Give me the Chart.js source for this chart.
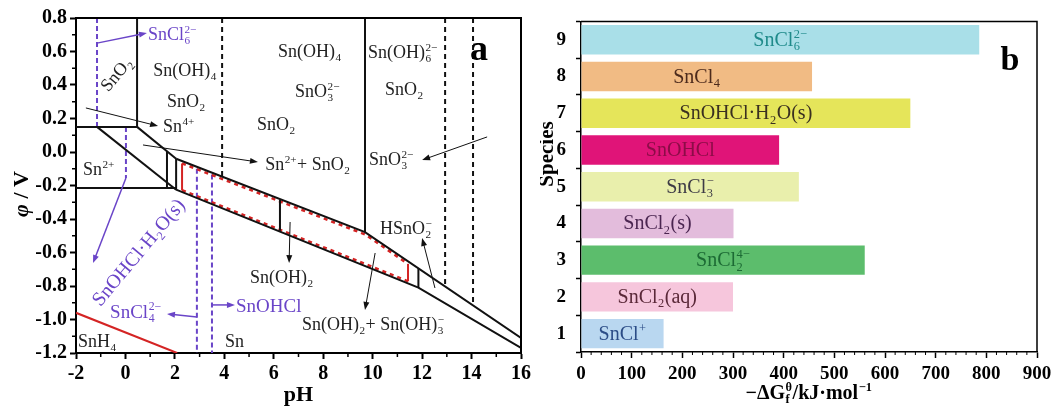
<!DOCTYPE html>
<html>
<head>
<meta charset="utf-8">
<script src="https://cdn.jsdelivr.net/npm/chart.js@4.4.1/dist/chart.umd.min.js"></script>
<style>
  body { margin: 0; background: #fff; width: 1051px; height: 410px; overflow: hidden; position: relative; }
  canvas { position: absolute; top: 0; }
  #pourbaix { left: 0; }
  #gibbs { left: 540px; }
</style>
</head>
<body>
<canvas id="pourbaix" width="540" height="410"></canvas>
<canvas id="gibbs" width="511" height="410"></canvas>
<script>
const SERIF = '"Liberation Serif", "Times New Roman", serif';
const BLACK = "#111";
const PURPLE = "#6a45c8";
const RED = "#d42424";

// ---- panel a : pH / potential lines ----
const sno2Box = [[-2, 0.15], [0.47, 0.15], [0.47, 0.8]];
const sn4Sn2Line = [[0.47, 0.15], [2.05, -0.04]];
const sn2Diagonal = [[-1.15, 0.15], [2.05, -0.225]];
const sn2Floor = [[-2, -0.215], [2.05, -0.215]];
const upperBoundary = [[2.05, -0.04], [9.69, -0.478], [16, -1.11]];
const lowerBoundary = [[2.05, -0.225], [11.85, -0.81], [16, -1.17]];
const solidVerticals = [
  [[1.68, 0.005], [1.68, -0.215]],
  [[2.05, -0.04], [2.05, -0.225]],
  [[6.25, -0.285], [6.25, -0.47]],
  [[9.69, 0.8], [9.69, -0.478]],
  [[11.85, -0.695], [11.85, -0.81]],
];
const dashedVerticals = [
  [[3.91, 0.8], [3.91, -0.148]],
  [[12.93, 0.8], [12.93, -0.802]],
  [[14.06, 0.8], [14.06, -0.915]],
];
const snh4Line = [[-2, -0.96], [2.09, -1.2]];
const redUpper = [[2.29, -0.068], [9.69, -0.492], [11.43, -0.668]];
const redLower = [[2.29, -0.228], [11.43, -0.772]];
const redSides = [
  [[2.29, -0.068], [2.29, -0.228]],
  [[11.43, -0.668], [11.43, -0.772]],
];
const chlorideDashed = [
  [[-1.15, 0.8], [-1.15, 0.15]],
  [[0.02, 0.15], [0.02, -0.155]],
  [[2.89, -0.1], [2.89, -1.2]],
  [[3.5, -0.135], [3.5, -1.2]],
];
// arrows: [fromPH, fromE, toPH, toE]
const blackArrows = [
  [-1.6, 0.263, 1.32, 0.155],
  [0.71, 0.042, 5.36, -0.06],
  [14.63, 0.09, 12.0, -0.048],
  [6.66, -0.418, 6.62, -0.663],
  [10.1, -0.603, 9.69, -0.943],
  [12.52, -0.812, 12.0, -0.513],
];
const purpleArrows = [
  [-1.15, 0.65, 0.87, 0.71],
  [0.02, -0.155, -1.31, -0.663],
  [2.89, -0.985, 1.68, -0.967],
  [3.5, -0.913, 4.43, -0.913],
];

// ---- panel b : Gibbs energies ----
const species = ["1", "2", "3", "4", "5", "6", "7", "8", "9"];
const gibbsValues = [163, 300, 560, 301, 430, 391, 650, 456, 786];
const speciesNames = [
  ["SnCl", { p: "+" }],
  ["SnCl", { b: "2" }, "(aq)"],
  ["SnCl", { b: "2", p: "4\u2212" }],
  ["SnCl", { b: "2" }, "(s)"],
  ["SnCl", { b: "3", p: "\u2212" }],
  ["SnOHCl"],
  ["SnOHCl\u00b7H", { b: "2" }, "O(s)"],
  ["SnCl", { b: "4" }],
  ["SnCl", { b: "6", p: "2\u2212" }],
];
const barColors = ["#b9d7f0", "#f6c6dc", "#5cbd6c", "#e3bcdc", "#e9efac", "#e01478", "#e5e55a", "#f1bb84", "#a9dfe8"];
const nameColors = ["#2b4c86", "#5a2838", "#1c6a34", "#4a2550", "#3d3a45", "#8c0c47", "#3a3020", "#4c2a1c", "#1e8a8a"];

// rich text: strings are normal, {b, p} objects are sub / superscript
function richWidth(ctx, parts, size, weight) {
  let w = 0;
  parts.forEach((p) => {
    if (typeof p === "string") {
      ctx.font = `${weight} ${size}px ${SERIF}`;
      w += ctx.measureText(p).width;
    } else {
      ctx.font = `${weight} ${size * 0.62}px ${SERIF}`;
      w += Math.max(ctx.measureText(p.b || "").width, ctx.measureText(p.p || "").width) + 1;
    }
  });
  return w;
}
function drawRich(ctx, parts, x, y, size, color, align, weight) {
  weight = weight || "normal";
  let cx = align === "center" ? x - richWidth(ctx, parts, size, weight) / 2 : x;
  ctx.fillStyle = color;
  ctx.textAlign = "left";
  ctx.textBaseline = "alphabetic";
  parts.forEach((p) => {
    if (typeof p === "string") {
      ctx.font = `${weight} ${size}px ${SERIF}`;
      ctx.fillText(p, cx, y);
      cx += ctx.measureText(p).width;
    } else {
      ctx.font = `${weight} ${size * 0.62}px ${SERIF}`;
      if (p.b) ctx.fillText(p.b, cx + 0.5, y + size * 0.22);
      if (p.p) ctx.fillText(p.p, cx + 0.5, y - size * 0.4);
      cx += Math.max(ctx.measureText(p.b || "").width, ctx.measureText(p.p || "").width) + 1;
    }
  });
}
function arrow(ctx, x1, y1, x2, y2, color, width) {
  const ang = Math.atan2(y2 - y1, x2 - x1), len = 8, half = 3;
  ctx.strokeStyle = color;
  ctx.fillStyle = color;
  ctx.lineWidth = width;
  ctx.setLineDash([]);
  ctx.beginPath();
  ctx.moveTo(x1, y1);
  ctx.lineTo(x2 - Math.cos(ang) * len * 0.8, y2 - Math.sin(ang) * len * 0.8);
  ctx.stroke();
  ctx.beginPath();
  ctx.moveTo(x2, y2);
  ctx.lineTo(x2 - len * Math.cos(ang) + half * Math.sin(ang), y2 - len * Math.sin(ang) - half * Math.cos(ang));
  ctx.lineTo(x2 - len * Math.cos(ang) - half * Math.sin(ang), y2 - len * Math.sin(ang) + half * Math.cos(ang));
  ctx.closePath();
  ctx.fill();
}
function seg(points, color, width, dash) {
  return {
    data: points.map(([x, y]) => ({ x, y })),
    showLine: true,
    borderColor: color,
    borderWidth: width,
    borderDash: dash || [],
    pointRadius: 0,
    pointHoverRadius: 0,
    fill: false,
    tension: 0,
  };
}

// region labels of panel a (pH, E = left end of baseline, or centre when rotated)
const regionLabels = [
  { parts: ["SnCl", { b: "6", p: "2\u2212" }], ph: 0.91, e: 0.669, color: PURPLE },
  { parts: ["Sn(OH)", { b: "4" }], ph: 1.12, e: 0.454 },
  { parts: ["SnO", { b: "2" }], ph: 1.68, e: 0.269 },
  { parts: ["Sn", { p: "4+" }], ph: 1.52, e: 0.119 },
  { parts: ["Sn", { p: "2+" }], ph: -1.72, e: -0.137 },
  { parts: ["Sn(OH)", { b: "4" }], ph: 6.17, e: 0.567 },
  { parts: ["SnO", { b: "3", p: "2\u2212" }], ph: 6.86, e: 0.328 },
  { parts: ["SnO", { b: "2" }], ph: 5.32, e: 0.131 },
  { parts: ["Sn", { p: "2+" }, "+ SnO", { b: "2" }], ph: 5.65, e: -0.107 },
  { parts: ["Sn(OH)", { b: "6", p: "2\u2212" }], ph: 9.81, e: 0.561 },
  { parts: ["SnO", { b: "2" }], ph: 10.5, e: 0.34 },
  { parts: ["SnO", { b: "3", p: "2\u2212" }], ph: 9.85, e: -0.078 },
  { parts: ["Sn(OH)", { b: "2" }], ph: 5.04, e: -0.782 },
  { parts: ["HSnO", { b: "2", p: "\u2212" }], ph: 10.3, e: -0.49 },
  { parts: ["Sn(OH)", { b: "2" }, "+ Sn(OH)", { b: "3", p: "\u2212" }], ph: 7.14, e: -1.063 },
  { parts: ["SnOHCl"], ph: 4.47, e: -0.955, color: PURPLE, size: 19 },
  { parts: ["SnCl", { b: "4", p: "2\u2212" }], ph: -0.62, e: -0.991, color: PURPLE, size: 19 },
  { parts: ["SnH", { b: "4" }], ph: -1.92, e: -1.164 },
  { parts: ["Sn"], ph: 4.03, e: -1.164 },
  { parts: ["SnO", { b: "2" }], ph: -0.38, e: 0.466, rot: -50 },
  { parts: ["SnOHCl\u00b7H", { b: "2" }, "O(s)"], ph: 0.53, e: -0.6, rot: -50, color: PURPLE, size: 20 },
];

const pourbaixDecor = {
  id: "pourbaixDecor",
  afterDatasetsDraw(chart) {
    const { ctx, chartArea: a, scales: { x, y } } = chart;
    ctx.save();
    ctx.strokeStyle = "#000";
    ctx.lineWidth = 2;
    ctx.setLineDash([]);
    ctx.beginPath();
    ctx.moveTo(a.left, a.top);
    ctx.lineTo(a.right, a.top);
    ctx.lineTo(a.right, a.bottom);
    ctx.stroke();
    // minor ticks
    ctx.lineWidth = 1.5;
    ctx.beginPath();
    for (let v = -1; v < 16; v += 2) {
      const px = x.getPixelForValue(v);
      ctx.moveTo(px, a.bottom);
      ctx.lineTo(px, a.bottom + 4);
    }
    for (let v = -1.1; v < 0.8; v += 0.2) {
      const py = y.getPixelForValue(v);
      ctx.moveTo(a.left, py);
      ctx.lineTo(a.left - 4, py);
    }
    ctx.stroke();

    blackArrows.forEach((r) =>
      arrow(ctx, x.getPixelForValue(r[0]), y.getPixelForValue(r[1]), x.getPixelForValue(r[2]), y.getPixelForValue(r[3]), BLACK, 1));
    purpleArrows.forEach((r) =>
      arrow(ctx, x.getPixelForValue(r[0]), y.getPixelForValue(r[1]), x.getPixelForValue(r[2]), y.getPixelForValue(r[3]), PURPLE, 1.5));

    regionLabels.forEach((l) => {
      const px = x.getPixelForValue(l.ph), py = y.getPixelForValue(l.e);
      const size = l.size || 18;
      if (l.rot) {
        ctx.save();
        ctx.translate(px, py);
        ctx.rotate((l.rot * Math.PI) / 180);
        drawRich(ctx, l.parts, 0, 6, size, l.color || "#222", "center");
        ctx.restore();
      } else {
        drawRich(ctx, l.parts, px, py, size, l.color || "#222", "left");
      }
    });

    // panel letter and axis titles
    ctx.fillStyle = "#000";
    ctx.textAlign = "center";
    ctx.textBaseline = "alphabetic";
    ctx.font = `bold 36px ${SERIF}`;
    ctx.fillText("a", 479, 60);
    ctx.font = `bold 22px ${SERIF}`;
    ctx.fillText("pH", (a.left + a.right) / 2, 401);
    ctx.save();
    ctx.translate(28, 194);
    ctx.rotate(-Math.PI / 2);
    ctx.textAlign = "left";
    ctx.font = `italic bold 22px ${SERIF}`;
    const phi = "\u03c6";
    const w1 = ctx.measureText(phi).width;
    ctx.font = `bold 22px ${SERIF}`;
    const w2 = ctx.measureText(" / V").width;
    ctx.font = `italic bold 22px ${SERIF}`;
    ctx.fillText(phi, -(w1 + w2) / 2, 0);
    ctx.font = `bold 22px ${SERIF}`;
    ctx.fillText(" / V", -(w1 + w2) / 2 + w1, 0);
    ctx.restore();
    ctx.restore();
  },
};

const pourbaixData = [
  seg(sno2Box, BLACK, 2),
  seg(sn4Sn2Line, BLACK, 2),
  seg(sn2Diagonal, BLACK, 2),
  seg(sn2Floor, BLACK, 2),
  seg(upperBoundary, BLACK, 2),
  seg(lowerBoundary, BLACK, 2),
  ...solidVerticals.map((s) => seg(s, BLACK, 2)),
  ...dashedVerticals.map((s) => seg(s, BLACK, 2, [5, 4])),
  seg(snh4Line, RED, 2),
  seg(redUpper, RED, 2.5, [4, 4]),
  seg(redLower, RED, 2.5, [4, 4]),
  ...redSides.map((s) => seg(s, RED, 2)),
  ...chlorideDashed.map((s) => seg(s, PURPLE, 2, [5, 3])),
];

const tickFont = { family: SERIF, size: 20, weight: "bold" };
const gibbsTickFont = { family: SERIF, size: 19, weight: "bold" };

new Chart(document.getElementById("pourbaix"), {
  type: "scatter",
  data: { datasets: pourbaixData },
  options: {
    responsive: false,
    animation: false,
    events: [],
    layout: { padding: { top: 18, right: 19, left: 0, bottom: 0 } },
    plugins: { legend: { display: false }, tooltip: { enabled: false } },
    scales: {
      x: {
        type: "linear",
        min: -2,
        max: 16,
        ticks: { stepSize: 2, color: "#000", font: tickFont, padding: 3 },
        grid: { drawOnChartArea: false, tickLength: 6, tickWidth: 2, tickColor: "#000" },
        border: { color: "#000", width: 2 },
        afterFit: (s) => { s.height = 57; s.paddingRight = 0; },
      },
      y: {
        type: "linear",
        min: -1.2,
        max: 0.8,
        ticks: {
          stepSize: 0.2,
          color: "#000",
          font: tickFont,
          padding: 3,
          callback: (v) => (Math.abs(v) < 1e-9 ? 0 : v).toFixed(1),
        },
        grid: { drawOnChartArea: false, tickLength: 6, tickWidth: 2, tickColor: "#000" },
        border: { color: "#000", width: 2 },
        afterFit: (s) => { s.width = 76; },
      },
    },
  },
  plugins: [pourbaixDecor],
});

// ---- panel b ----
const gibbsDecor = {
  id: "gibbsDecor",
  afterDatasetsDraw(chart) {
    const { ctx, chartArea: a, scales: { x } } = chart;
    ctx.save();
    ctx.strokeStyle = "#000";
    ctx.lineWidth = 1.5;
    ctx.beginPath();
    ctx.moveTo(a.left, a.top);
    ctx.lineTo(a.right, a.top);
    ctx.lineTo(a.right, a.bottom);
    ctx.stroke();
    ctx.lineWidth = 1;
    ctx.beginPath();
    for (let v = 20; v < 900; v += 20) {
      if (v % 100 === 0) continue;
      const px = x.getPixelForValue(v);
      ctx.moveTo(px, a.bottom);
      ctx.lineTo(px, a.bottom + 3);
    }
    ctx.stroke();

    chart.getDatasetMeta(0).data.forEach((bar, i) => {
      const p = bar.getProps(["x", "y", "base"], true);
      drawRich(ctx, speciesNames[i], (p.x + p.base) / 2, p.y + 6, 20, nameColors[i], "center");
    });

    ctx.fillStyle = "#000";
    ctx.textAlign = "center";
    ctx.textBaseline = "alphabetic";
    ctx.font = `bold 34px ${SERIF}`;
    ctx.fillText("b", 470, 70);
    drawRich(ctx, ["\u2212\u0394G", { b: "f", p: "\u03b8" }, "/kJ\u00b7mol", { p: "\u22121" }], (a.left + a.right) / 2, 399, 20, "#000", "center", "bold");
    ctx.save();
    ctx.translate(8, (a.top + a.bottom) / 2);
    ctx.rotate(-Math.PI / 2);
    ctx.font = `bold 21px ${SERIF}`;
    ctx.textBaseline = "middle";
    ctx.fillText("Species", 0, 0);
    ctx.restore();
    ctx.restore();
  },
};

new Chart(document.getElementById("gibbs"), {
  type: "bar",
  data: {
    labels: species,
    datasets: [
      {
        data: gibbsValues,
        backgroundColor: barColors,
        borderWidth: 0,
        barPercentage: 0.8,
        categoryPercentage: 1.0,
      },
    ],
  },
  options: {
    indexAxis: "y",
    responsive: false,
    animation: false,
    events: [],
    layout: { padding: { top: 17, right: 14, left: 0, bottom: 0 } },
    plugins: { legend: { display: false }, tooltip: { enabled: false } },
    scales: {
      x: {
        type: "linear",
        min: 0,
        max: 900,
        ticks: { stepSize: 100, color: "#000", font: gibbsTickFont, padding: 5 },
        grid: { drawOnChartArea: false, tickLength: 6, tickWidth: 1.5, tickColor: "#000" },
        border: { color: "#000", width: 1.5 },
        afterFit: (s) => { s.height = 58; s.paddingRight = 0; s.paddingLeft = 0; },
      },
      y: {
        reverse: true,
        ticks: { color: "#000", font: gibbsTickFont, padding: 10 },
        grid: { drawOnChartArea: false, tickLength: 5, tickWidth: 1.5, tickColor: "#000" },
        border: { color: "#000", width: 1.5 },
        afterFit: (s) => { s.width = 41; },
      },
    },
  },
  plugins: [gibbsDecor],
});
</script>
</body>
</html>
